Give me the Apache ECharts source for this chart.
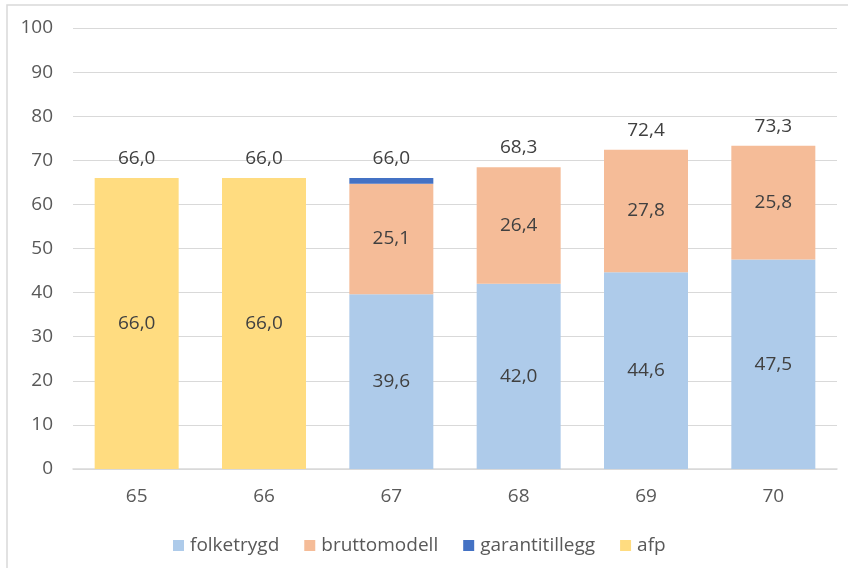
<!DOCTYPE html>
<html>
<head>
    <meta charset="utf-8">
    <title>Pensjon</title>
    <script src="https://cdn.jsdelivr.net/npm/echarts@6/dist/echarts.min.js"></script>
    <style>
        html, body {margin: 0; padding: 0; background: #fff;}
        #main {width: 848px; height: 568px;}
    </style>
</head>
<body>
<div id="main"></div>
<script type="text/javascript">
    // data
    var categories = ['65', '66', '67', '68', '69', '70'];
    var folketrygd = [0, 0, 39.6, 42.0, 44.6, 47.5];
    var bruttomodell = [0, 0, 25.1, 26.4, 27.8, 25.8];
    var garantitillegg = [0, 0, 1.3, 0, 0, 0];
    var afp = [66.0, 66.0, 0, 0, 0, 0];
    var totals = [66.0, 66.0, 66.0, 68.3, 72.4, 73.3];

    var txt = '#595959';
    var font = '"Open Sans", sans-serif';
    var fs = 19;

    function fmt(v) {
        return v.toFixed(1).replace('.', ',');
    }

    function part(name, data, color, showLabel) {
        return {
            name: name,
            type: 'bar',
            stack: 'sum',
            barWidth: 84,
            itemStyle: {color: color},
            label: {
                show: showLabel,
                position: 'inside',
                color: '#404040',
                fontSize: fs,
                fontFamily: font,
                formatter: function (p) { return p.value ? fmt(p.value) : ''; }
            },
            data: data.map(function (v) { return v === 0 ? null : v; })
        };
    }

    var myChart = echarts.init(document.getElementById('main'));
    myChart.setOption({
        animation: false,
        textStyle: {fontFamily: font},
        graphic: [{
            type: 'rect',
            shape: {x: 7, y: 5, width: 850, height: 570},
            style: {fill: 'none', stroke: '#d9d9d9', lineWidth: 1.5},
            silent: true
        }],
        grid: {left: 73, right: 11, top: 28, bottom: 99},
        legend: {
            data: ['folketrygd', 'bruttomodell', 'garantitillegg', 'afp'],
            left: 168,
            top: 531,
            icon: 'rect',
            itemWidth: 11,
            itemHeight: 11,
            itemGap: 25,
            itemTextStyle: {},
            textStyle: {color: txt, fontSize: fs, fontFamily: font, padding: [0, 0, 0, 1]}
        },
        xAxis: {
            type: 'category',
            data: categories,
            axisLine: {lineStyle: {color: '#d9d9d9', width: 1.5}},
            axisTick: {show: false},
            axisLabel: {color: txt, fontSize: fs, fontFamily: font, margin: 18}
        },
        yAxis: {
            type: 'value',
            min: 0,
            max: 100,
            interval: 10,
            axisLine: {show: false},
            axisTick: {show: false},
            splitLine: {lineStyle: {color: '#d9d9d9', width: 1}},
            axisLabel: {color: txt, fontSize: fs, fontFamily: font, margin: 20}
        },
        series: [
            part('folketrygd', folketrygd, '#aecbea', true),
            part('bruttomodell', bruttomodell, '#f5bc98', true),
            part('garantitillegg', garantitillegg, '#4472c4', false),
            part('afp', afp, '#ffdc80', true),
            {
                name: 'total',
                type: 'bar',
                stack: 'sum',
                barWidth: 84,
                itemStyle: {color: 'rgba(0,0,0,0)'},
                label: {
                    show: true,
                    position: 'top',
                    distance: 10,
                    color: '#404040',
                    fontSize: fs,
                    fontFamily: font,
                    formatter: function (p) { return fmt(totals[p.dataIndex]); }
                },
                data: totals.map(function () { return 0; })
            }
        ]
    });
</script>
</body>
</html>
